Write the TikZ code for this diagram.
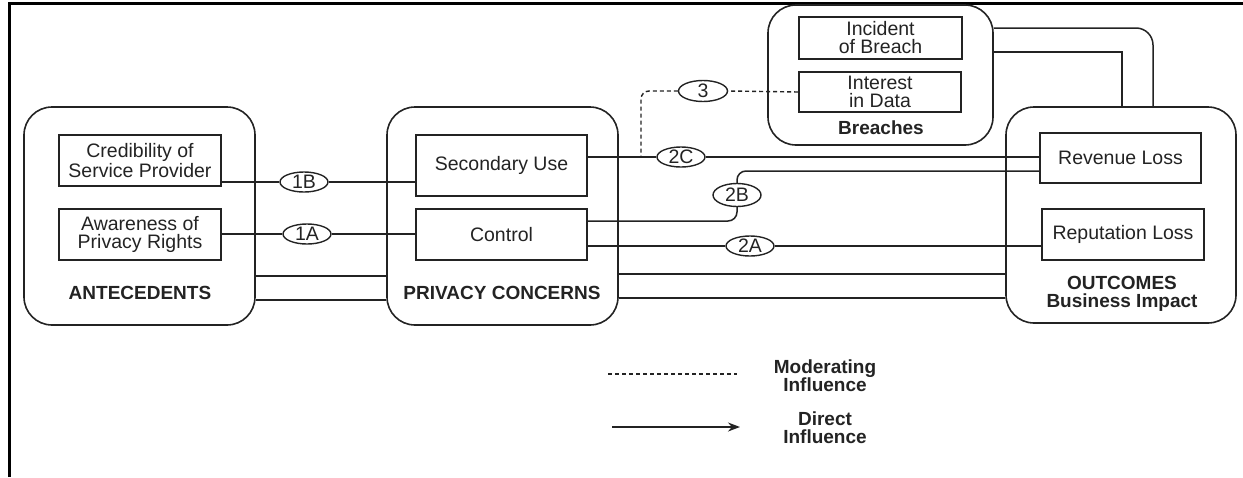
\documentclass[tikz,border=0pt]{standalone}
\usepackage{fontspec}
\setmainfont{Liberation Sans}
\usetikzlibrary{arrows.meta,positioning,shapes.geometric}
\definecolor{ink}{RGB}{35,35,35}
\begin{document}
\begin{tikzpicture}[x=1pt,y=-1pt,
  every node/.style={text=ink, font=\fontsize{19.5}{18}\selectfont},
  group/.style={draw=ink, line width=1.6pt, rounded corners=28pt, inner sep=0pt},
  factor/.style={draw=ink, line width=1.6pt, rectangle, inner sep=0pt, align=center},
  tag/.style={draw=ink, line width=1.4pt, ellipse, inner sep=0pt, minimum width=48pt, minimum height=20pt},
  title/.style={font=\fontsize{19}{18}\selectfont\bfseries, align=center},
  link/.style={draw=ink, line width=1.5pt},
  moderate/.style={draw=ink, line width=1.4pt, dash pattern=on 4pt off 3pt}]
\useasboundingbox (0,0) rectangle (1243,477);
% page frame
\draw[line width=3pt, black] (9.5,477) -- (9.5,3.5) -- (1243,3.5);

% containers
\node[group, minimum width=231pt, minimum height=218pt] (ant) at (139.5,216) {};
\node[group, minimum width=231pt, minimum height=218pt] (pc) at (502.5,216) {};
\node[group, minimum width=230pt, minimum height=216pt] (out) at (1121,215) {};
\node[group, minimum width=225pt, minimum height=140pt] (brc) at (880.5,75) {};

\node[title] (antl) at (140,293) {ANTECEDENTS};
\node[title] (pcl) at (502,293) {PRIVACY CONCERNS};
\node[title] (outl) at (1122,294) {OUTCOMES\\Business Impact};
\node[title] (brcl) at (881,128) {Breaches};

% factors
\node[factor, minimum width=162pt, minimum height=51pt] (cred) at (140,160.5) {Credibility of\\Service Provider};
\node[factor, minimum width=162pt, minimum height=51pt] (aware) at (140,234.5) {Awareness of\\Privacy Rights};
\node[factor, minimum width=171pt, minimum height=61pt] (sec) at (501.5,165.5) {Secondary Use};
\node[factor, minimum width=171pt, minimum height=51pt] (ctrl) at (501.5,234.5) {Control};
\node[factor, minimum width=161pt, minimum height=50pt] (rev) at (1120.5,158) {Revenue Loss};
\node[factor, minimum width=162pt, minimum height=51pt] (rep) at (1123,234.5) {Reputation Loss};
\node[factor, minimum width=163pt, minimum height=42pt] (inc) at (880.5,38) {Incident\\of Breach};
\node[factor, minimum width=162pt, minimum height=40pt] (int) at (880,92) {Interest\\in Data};

% path labels
\node[tag] (e1B) at (304,182) {1B};
\node[tag] (e1A) at (307,234) {1A};
\node[tag] (e2C) at (681,157) {2C};
\node[tag, minimum height=23pt] (e2B) at (737,195) {2B};
\node[tag] (e2A) at (750,246) {2A};
\node[tag, minimum width=49pt, minimum height=21pt] (e3) at (703,91) {3};

% direct influences
\draw[link] (cred.east |- e1B) -- (e1B) -- (sec.west |- e1B);
\draw[link] (aware.east |- e1A) -- (e1A) -- (ctrl.west |- e1A);
\draw[link] (sec.east |- e2C) -- (e2C) -- (rev.west |- e2C);
\coordinate (b1) at (ctrl.east |- 0,221);
\coordinate (b2) at (rev.west |- 0,171);
\draw[link, rounded corners=9pt] (b1) -| (e2B.south);
\draw[link, rounded corners=9pt] (e2B.north) |- (b2);
\draw[link] (ctrl.east |- e2A) -- (e2A) -- (rep.west |- e2A);

% group-level influences
\draw[link] (ant.east |- 0,276) -- (pc.west |- 0,276);
\draw[link] (ant.east |- 0,300) -- (pc.west |- 0,300);
\draw[link] (pc.east |- 0,274) -- (out.west |- 0,274);
\draw[link] (pc.east |- 0,298) -- (out.west |- 0,298);
\coordinate (o1) at (1153,0);
\coordinate (o2) at (1122,0);
\draw[link, rounded corners=17pt] (brc.east |- 0,28) -| (o1 |- out.north);
\draw[link] (brc.east |- 0,52) -| (o2 |- out.north);

% moderating influence
\coordinate (j3) at (641,157);
\draw[moderate] (int.west) -- (e3.east);
\draw[moderate, rounded corners=8pt] (e3.west) -| (j3);

% legend
\coordinate (m1) at (608,374);
\coordinate (m2) at (737,374);
\coordinate (d1) at (612,427);
\coordinate (d2) at (740,427);
\draw[moderate] (m1) -- (m2);
\draw[link, -{Stealth[length=12pt,width=9pt]}] (d1) -- (d2);
\node[title] (ml) at (825,376) {Moderating\\Influence};
\node[title] (dl) at (825,428) {Direct\\Influence};
\end{tikzpicture}
\end{document}
